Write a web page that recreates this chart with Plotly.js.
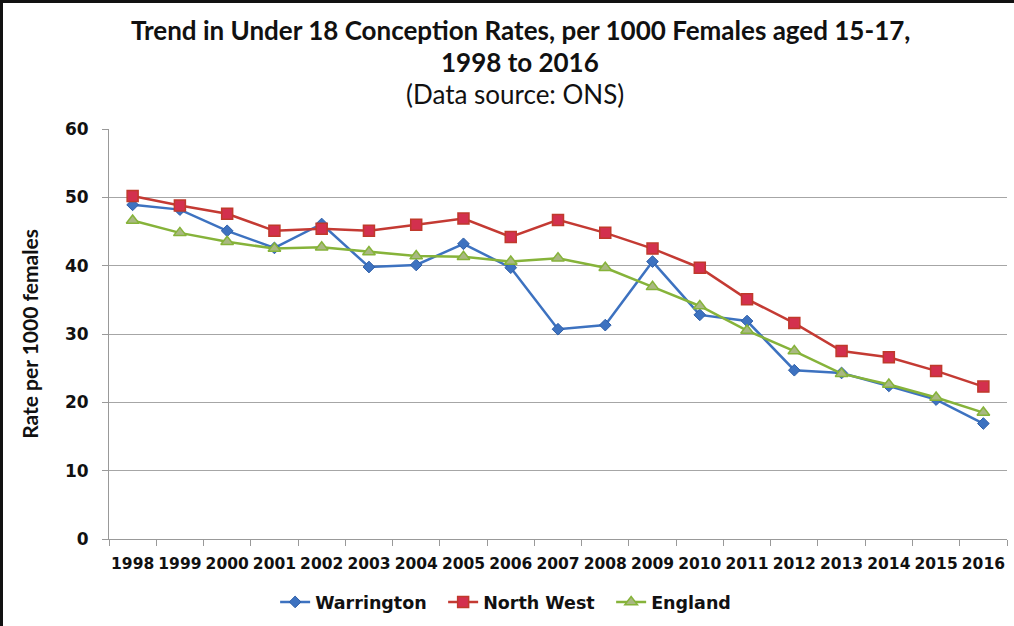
<!DOCTYPE html>
<html>
<head>
<meta charset="utf-8">
<script src="https://cdn.plot.ly/plotly-3.0.1.min.js"></script>
<style>
html,body{margin:0;padding:0;background:#fff;}
#frame{position:absolute;left:0;top:0;width:1014px;height:626px;box-sizing:border-box;border-top:3px solid #111;border-left:3px solid #111;}
#chart{position:absolute;left:0;top:0;width:1014px;height:626px;}
</style>
</head>
<body>
<div id="chart"></div>
<div id="frame"></div>
<script>
const years = ["1998","1999","2000","2001","2002","2003","2004","2005","2006","2007","2008","2009","2010","2011","2012","2013","2014","2015","2016"];
const warrington = [48.9,48.2,45.1,42.6,46.1,39.8,40.1,43.2,39.7,30.7,31.3,40.6,32.8,31.9,24.7,24.3,22.4,20.4,16.9];
const northWest = [50.2,48.8,47.6,45.1,45.4,45.1,46.0,46.9,44.2,46.7,44.8,42.5,39.7,35.1,31.6,27.5,26.6,24.6,22.3];
const england = [46.6,44.8,43.5,42.5,42.7,42.0,41.4,41.3,40.6,41.1,39.7,36.9,34.1,30.5,27.5,24.2,22.6,20.7,18.5];
const titleLines = ["<b>Trend in Under 18 Conception Rates, per 1000 Females aged 15-17,</b>", "<b>1998 to 2016</b>", "(Data source: ONS)"];

const traces = [
  {x: years, y: warrington, name: "Warrington", type: "scatter", mode: "lines+markers",
   line: {color: "#3D72C0", width: 2.5},
   marker: {symbol: "diamond", size: 9, color: "#3D72C0", line: {color: "#2F5FA8", width: 1}}},
  {x: years, y: northWest, name: "North West", type: "scatter", mode: "lines+markers",
   line: {color: "#C43A33", width: 2.5},
   marker: {symbol: "square", size: 11, color: "#D3304E", line: {color: "#C0392B", width: 1.5}}},
  {x: years, y: england, name: "England", type: "scatter", mode: "lines+markers",
   line: {color: "#86B33A", width: 2.5},
   marker: {symbol: "triangle-up", size: 11, color: "#A9B882", line: {color: "#86B33A", width: 1.5}}}
];

const titleY = [1.2409, 1.163, 1.0852];
const titleX = [0.458, 0.458, 0.452];
const annotations = titleLines.map((t, i) => ({
  text: t, xref: "paper", yref: "paper", x: titleX[i], y: titleY[i],
  xanchor: "center", yanchor: "middle", showarrow: false,
  font: {family: "Lato, 'Open Sans', sans-serif", size: 26, color: "#111"}
}));

const layout = {
  width: 1014, height: 626,
  paper_bgcolor: "#ffffff", plot_bgcolor: "#ffffff",
  margin: {l: 109, r: 7, t: 129, b: 86},
  annotations: annotations,
  xaxis: {
    type: "category",
    range: [-0.5, years.length - 0.5],
    showgrid: false,
    showline: true, linecolor: "#999", linewidth: 1,
    ticks: "outside", tickson: "boundaries", ticklen: 6, tickcolor: "#999",
    tickangle: 0, ticklabelstandoff: 10,
    tickfont: {family: "'DejaVu Sans', Verdana, sans-serif", size: 15.5, color: "#111", weight: "bold"},
    fixedrange: true
  },
  yaxis: {
    range: [0, 60], dtick: 10,
    showgrid: true, gridcolor: "#A6A6A6", gridwidth: 1,
    showline: true, linecolor: "#999", linewidth: 1,
    ticks: "outside", ticklen: 6, tickcolor: "#999",
    zeroline: false, ticklabelstandoff: 10,
    tickfont: {family: "'DejaVu Sans', Verdana, sans-serif", size: 17, color: "#111", weight: "bold"},
    title: {text: "<b>Rate per 1000 females</b>", font: {family: "Lato, 'Open Sans', sans-serif", size: 21, color: "#111"}, standoff: 20},
    fixedrange: true
  },
  legend: {
    orientation: "h", x: 0.185, xanchor: "left", y: -0.151, yanchor: "middle",
    font: {family: "'DejaVu Sans', Verdana, sans-serif", size: 17.5, color: "#111", weight: "bold"},
    itemwidth: 30, tracegroupgap: 0,
    entrywidth: 123, entrywidthmode: "pixels"
  },
  showlegend: true
};

Plotly.newPlot("chart", traces, layout, {displayModeBar: false, staticPlot: true});
</script>
</body>
</html>
